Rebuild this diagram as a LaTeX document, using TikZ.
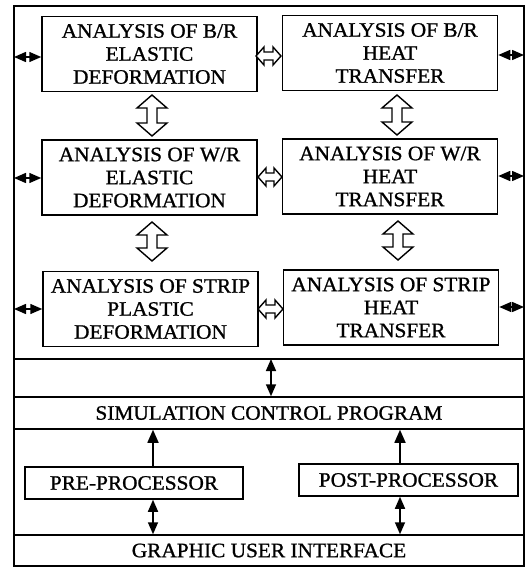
\documentclass[tikz,border=0pt]{standalone}
\usepackage{fontspec}
\setmainfont[FakeStretch=1.04,FakeBold=1.0]{Liberation Serif}
\usetikzlibrary{arrows.meta,calc}
\newcommand\bigtxt{\fontsize{20.5}{23}\selectfont}
\newcommand\vhol[3]{\draw[hollow] (#1,#2) -- (#1-15,#2+13) -- (#1-5,#2+13) -- (#1-5,#3-13) -- (#1-15,#3-13) -- (#1,#3) -- (#1+15,#3-13) -- (#1+5,#3-13) -- (#1+5,#2+13) -- (#1+15,#2+13) -- cycle;}
\newcommand\hhol[3]{\draw[hollow] (#2,#1) -- (#2+8,#1-9) -- (#2+8,#1-4) -- (#3-8,#1-4) -- (#3-8,#1-9) -- (#3,#1) -- (#3-8,#1+9) -- (#3-8,#1+4) -- (#2+8,#1+4) -- (#2+8,#1+9) -- cycle;}
\begin{document}
\begin{tikzpicture}[x=1pt,y=-1pt,
  box/.style={draw, line width=1.5pt, minimum width=215pt, minimum height=75pt, inner sep=0pt, align=center, font=\bigtxt},
  sbox/.style={draw, line width=1.5pt, minimum height=32pt, inner sep=0pt, align=center, font=\bigtxt},
  band/.style={draw, line width=1.5pt, minimum width=510pt, inner sep=0pt, font=\bigtxt},
  hollow/.style={draw, line width=1.4pt, fill=white, line join=miter},
  bowtie/.style={line width=1.5pt, {Triangle[length=12pt,width=10pt]}-{Triangle[length=12pt,width=10pt]}},
  dbl/.style={line width=1.6pt, {Triangle[length=12pt,width=10pt]}-{Triangle[length=12pt,width=10pt]}},
  up/.style={line width=1.6pt, -{Triangle[length=13pt,width=11pt]}}]
\useasboundingbox (0,0) rectangle (530,568);
\coordinate (FTL) at (14,6);
\coordinate (FBR) at (524,566);
\draw[line width=1.6pt] (FTL) rectangle (FBR);
% analysis boxes
\node[box] (e1) at (149.5,54) {ANALYSIS OF B/R\\ELASTIC\\DEFORMATION};
\node[box] (h1) at (390,53) {ANALYSIS OF B/R\\HEAT\\TRANSFER};
\node[box] (e2) at (149.5,177.5) {ANALYSIS OF W/R\\ELASTIC\\DEFORMATION};
\node[box] (h2) at (390,176.5) {ANALYSIS OF W/R\\HEAT\\TRANSFER};
\node[box] (e3) at (150.5,309) {ANALYSIS OF STRIP\\PLASTIC\\DEFORMATION};
\node[box] (h3) at (391,307.5) {ANALYSIS OF STRIP\\HEAT\\TRANSFER};
% separator and bands
\coordinate (sepL) at (14,359);
\coordinate (sepR) at (524,359);
\draw[line width=1.5pt] (sepL) -- (sepR);
\node[band, minimum height=32pt] (scp) at (269,413) {SIMULATION CONTROL PROGRAM};
\node[band, minimum height=31pt] (gui) at (269,550.5) {GRAPHIC USER INTERFACE};
\node[sbox, minimum width=218pt] (pre) at (134,483) {PRE-PROCESSOR};
\node[sbox, minimum width=219pt] (post) at (408.5,480) {POST-PROCESSOR};
% hollow double arrows
\hhol{56}{256}{281}
\hhol{177}{258}{282}
\hhol{309}{258}{283}
\vhol{152}{95}{136}
\vhol{397}{95}{135}
\vhol{152}{222}{261}
\vhol{398}{221}{260}
% small arrows to the frame
\coordinate (FL) at (14,0);
\coordinate (FR) at (524,0);
\coordinate (r1) at (0,57);
\coordinate (r2) at (0,178);
\coordinate (r3) at (0,309);
\coordinate (q1) at (0,55);
\coordinate (q2) at (0,176);
\coordinate (q3) at (0,307);
\draw[bowtie] (FL |- r1) -- (e1.west |- r1);
\draw[bowtie] (FL |- r2) -- (e2.west |- r2);
\draw[bowtie] (FL |- r3) -- (e3.west |- r3);
\draw[bowtie] (h1.east |- q1) -- (FR |- q1);
\draw[bowtie] (h2.east |- q2) -- (FR |- q2);
\draw[bowtie] (h3.east |- q3) -- (FR |- q3);
% control arrows
\coordinate (m) at (271,359);
\draw[dbl] (m) -- (scp.north -| m);
\coordinate (pa) at (153,0);
\coordinate (pb) at (400,0);
\draw[up] (pre.north -| pa) -- (scp.south -| pa);
\draw[dbl] (pre.south -| pa) -- (gui.north -| pa);
\draw[up] (post.north -| pb) -- (scp.south -| pb);
\draw[dbl] (post.south -| pb) -- (gui.north -| pb);
\end{tikzpicture}
\end{document}
